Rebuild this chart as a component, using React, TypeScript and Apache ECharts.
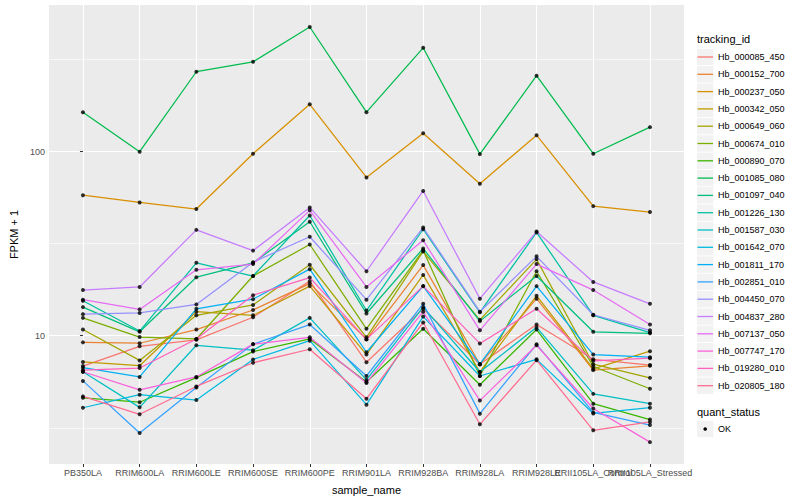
import React, { useEffect, useRef } from 'react';
import * as echarts from 'echarts';

const samples = [
  'PB350LA', 'RRIM600LA', 'RRIM600LE', 'RRIM600SE', 'RRIM600PE', 'RRIM901LA',
  'RRIM928BA', 'RRIM928LA', 'RRIM928LE', 'RRII105LA_Control', 'RRII105LA_Stressed',
];

const trackingIds = [
  'Hb_000085_450', 'Hb_000152_700', 'Hb_000237_050', 'Hb_000342_050', 'Hb_000649_060',
  'Hb_000674_010', 'Hb_000890_070', 'Hb_001085_080', 'Hb_001097_040', 'Hb_001226_130',
  'Hb_001587_030', 'Hb_001642_070', 'Hb_001811_170', 'Hb_002851_010', 'Hb_004450_070',
  'Hb_004837_280', 'Hb_007137_050', 'Hb_007747_170', 'Hb_019280_010', 'Hb_020805_180',
];

const colors = [
  '#F8766D', '#EA8331', '#D89000', '#C09B00', '#A3A500', '#7CAE00', '#39B600', '#00BB4E',
  '#00BF7D', '#00C1A3', '#00BFC4', '#00BAE0', '#00B0F6', '#35A2FF', '#9590FF', '#C77CFF',
  '#E76BF3', '#FA62DB', '#FF62BC', '#FF6C91',
];

// FPKM + 1 per sample, in the order of `samples`
const hb000085_450 = [6.84, 8.76, 9.5, 12.6, 19.8, 7.18, 14.0, 7.0, 11.5, 7.44, 6.93];
const hb000152_700 = [9.2, 9.1, 10.8, 13.8, 19.2, 9.55, 24.2, 7.0, 15.9, 6.5, 6.86];
const hb000237_050 = [58, 53, 48.8, 97.5, 181, 72.5, 126, 67, 123, 50.6, 47];
const hb000342_050 = [7.2, 6.87, 13.5, 12.9, 18.6, 7.9, 21.4, 6.35, 16.5, 6.6, 8.24];
const hb000649_060 = [10.8, 7.34, 12.9, 14.7, 24.3, 9.8, 28.7, 12.2, 26.0, 7.0, 5.9];
const hb000674_010 = [12.5, 9.83, 9.6, 21.1, 31.3, 10.9, 29.1, 6.04, 22.4, 6.8, 5.15];
const hb000890_070 = [4.6, 4.35, 5.92, 8.2, 9.6, 5.6, 10.9, 5.41, 10.8, 4.27, 3.5];
const hb001085_080 = [164, 100, 272, 308, 476, 164, 367, 97, 259, 97.5, 136];
const hb001097_040 = [14.3, 10.5, 20.8, 24.9, 41.6, 13.2, 29.8, 12.0, 21.1, 10.5, 10.3];
const hb001226_130 = [15.5, 10.6, 24.9, 21.1, 45.0, 13.7, 37.9, 13.4, 36.4, 12.9, 10.4];
const hb001587_030 = [6.37, 4.08, 8.87, 8.34, 12.5, 5.75, 14.3, 6.35, 11.1, 4.83, 4.27];
const hb001642_070 = [4.06, 4.78, 4.47, 7.43, 9.4, 4.22, 12.7, 6.04, 7.44, 3.78, 4.06];
const hb001811_170 = [6.7, 5.97, 14.0, 15.8, 23.0, 8.13, 18.6, 7.0, 18.6, 7.9, 7.64];
const hb002851_010 = [5.68, 2.96, 5.23, 9.0, 11.5, 6.04, 14.9, 3.77, 8.98, 3.83, 3.27];
const hb004450_070 = [13.1, 13.3, 14.8, 25.1, 34.5, 15.7, 38.7, 13.5, 27.0, 13.0, 10.7];
const hb004837_280 = [17.7, 18.4, 37.6, 29.0, 49.8, 22.4, 61.2, 15.9, 36.8, 19.6, 14.9];
const hb007137_050 = [15.7, 13.9, 22.8, 24.5, 48.0, 18.4, 33.0, 10.7, 24.5, 17.7, 11.5];
const hb007747_170 = [6.37, 5.08, 5.97, 9.0, 9.8, 5.54, 13.5, 4.44, 8.87, 4.02, 2.64];
const hb019280_010 = [6.5, 6.67, 9.6, 16.6, 20.7, 9.55, 18.6, 9.08, 14.0, 7.3, 7.55];
const hb020805_180 = [4.68, 3.74, 5.3, 7.13, 8.44, 4.54, 11.8, 3.3, 7.36, 3.06, 3.4];

const seriesValues = [
  hb000085_450, hb000152_700, hb000237_050, hb000342_050, hb000649_060,
  hb000674_010, hb000890_070, hb001085_080, hb001097_040, hb001226_130,
  hb001587_030, hb001642_070, hb001811_170, hb002851_010, hb004450_070,
  hb004837_280, hb007137_050, hb007747_170, hb019280_010, hb020805_180,
];

const yMajorTicks = [10, 100];
const yMinorTicks = [3.1623, 31.623, 316.23];
const quantStatus = ['OK'];

const FONT = '"Liberation Sans", Arial, Helvetica, sans-serif';

export default function App() {
  const ref = useRef<HTMLDivElement>(null);

  useEffect(() => {
    if (!ref.current) return;
    const chart = echarts.init(ref.current, undefined, { renderer: 'svg' });
    const sampleIdx = samples.map((_, i) => i);
    // labels split over two axes so that the library does not drop overlapping ones
    const evenIdx = sampleIdx.filter((i) => i % 2 === 0);
    const oddIdx = sampleIdx.filter((i) => i % 2 === 1);

    const lineSeries: any[] = seriesValues.map((vals, k) => ({
      type: 'line',
      name: trackingIds[k],
      data: vals.map((v, i) => [i, v]),
      showSymbol: false,
      symbol: 'none',
      lineStyle: { color: colors[k], width: 1.25 },
      itemStyle: { color: colors[k] },
      z: 2,
      silent: true,
    }));
    // minor grid lines (half decades) on the log scale
    lineSeries[0].markLine = {
      silent: true,
      z: 1,
      symbol: ['none', 'none'],
      label: { show: false },
      lineStyle: { color: '#FFFFFF', width: 0.6, type: 'solid' },
      emphasis: { disabled: true },
      data: yMinorTicks.map((v) => ({ yAxis: v })),
    };

    const pointData: number[][] = [];
    seriesValues.forEach((vals) => vals.forEach((v, i) => pointData.push([i, v])));

    const legendGraphics: any[] = [];
    const lx = 697;
    legendGraphics.push({
      type: 'text', left: lx, top: 33,
      style: { text: 'tracking_id', font: `11px ${FONT}`, fill: '#000' },
    });
    trackingIds.forEach((id, k) => {
      const cy = 57 + k * 17.3;
      legendGraphics.push({
        type: 'rect', shape: { x: lx, y: cy - 8.2, width: 16.4, height: 16.4 },
        style: { fill: '#F2F2F2' },
      });
      legendGraphics.push({
        type: 'line', shape: { x1: lx + 0.5, y1: cy, x2: lx + 16, y2: cy },
        style: { stroke: colors[k], lineWidth: 1.3 },
      });
      legendGraphics.push({
        type: 'text', x: lx + 21, y: cy,
        style: { text: id, font: `9px ${FONT}`, fill: '#000', textVerticalAlign: 'middle', verticalAlign: 'middle' },
      });
    });
    legendGraphics.push({
      type: 'text', left: lx, top: 406,
      style: { text: 'quant_status', font: `11px ${FONT}`, fill: '#000' },
    });
    quantStatus.forEach((s, k) => {
      const cy = 429 + k * 17.3;
      legendGraphics.push({
        type: 'rect', shape: { x: lx, y: cy - 8.2, width: 16.4, height: 16.4 },
        style: { fill: '#F2F2F2' },
      });
      legendGraphics.push({
        type: 'circle', shape: { cx: lx + 8.2, cy, r: 1.8 },
        style: { fill: '#000' },
      });
      legendGraphics.push({
        type: 'text', x: lx + 21, y: cy,
        style: { text: s, font: `9px ${FONT}`, fill: '#000', textVerticalAlign: 'middle', verticalAlign: 'middle' },
      });
    });

    const labelStyle = {
      color: '#4D4D4D', fontSize: 9, margin: 4, fontFamily: FONT,
      showMinLabel: true, showMaxLabel: true, hideOverlap: false,
      formatter: (v: number) => samples[Math.round(v)] ?? '',
    };
    const makeX = (idx: number[], withName: boolean) => ({
      type: 'value', min: -0.6, max: 10.6, minInterval: 1, maxInterval: 1,
      position: 'bottom', offset: 0,
      axisLine: { show: false },
      axisTick: { show: true, customValues: idx, length: 3, lineStyle: { color: '#333333', width: 1 } },
      axisLabel: { ...labelStyle, customValues: idx },
      splitLine: { show: true, lineStyle: { color: '#FFFFFF', width: 1.1 } },
      ...(withName
        ? {
            name: 'sample_name', nameLocation: 'middle', nameGap: 20,
            nameTextStyle: { fontSize: 11, color: '#000000', fontFamily: FONT },
          }
        : {}),
    });

    const option: any = {
      animation: false,
      backgroundColor: '#FFFFFF',
      textStyle: { fontFamily: FONT },
      grid: {
        left: 40, right: 116, top: 5, bottom: 31,
        show: true, backgroundColor: '#EBEBEB', borderWidth: 0, containLabel: false,
      },
      xAxis: [makeX(evenIdx, true), makeX(oddIdx, false)],
      yAxis: {
        type: 'log', logBase: 10, min: 2.008, max: 627,
        axisLine: { show: false },
        axisTick: { show: true, customValues: yMajorTicks, length: 3, lineStyle: { color: '#333333', width: 1 } },
        axisLabel: {
          customValues: yMajorTicks,
          formatter: (v: number) => String(Math.round(v)),
          color: '#4D4D4D', fontSize: 9, margin: 4, fontFamily: FONT,
        },
        splitLine: { show: true, lineStyle: { color: '#FFFFFF', width: 1.1 } },
        name: 'FPKM + 1', nameLocation: 'middle', nameGap: 27, nameRotate: 90,
        nameTextStyle: { fontSize: 11, color: '#000000', fontFamily: FONT },
      },
      series: [
        ...lineSeries,
        {
          type: 'scatter', name: 'points', data: pointData,
          symbol: 'circle', symbolSize: 4,
          itemStyle: { color: '#000000' }, z: 5, silent: true,
        },
      ],
      graphic: legendGraphics,
    };
    chart.setOption(option);
    return () => chart.dispose();
  }, []);

  return (
    <div
      ref={ref}
      style={{ position: 'fixed', left: 0, top: 0, width: 800, height: 500, background: '#fff' }}
    />
  );
}
